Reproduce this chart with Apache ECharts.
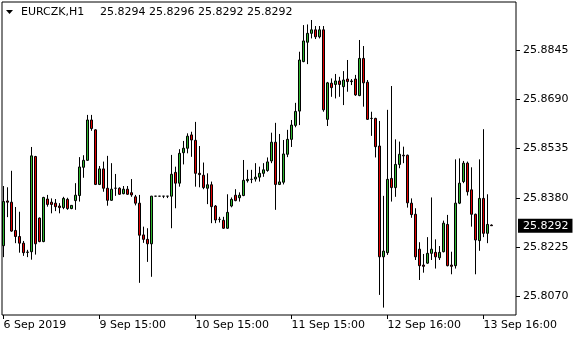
<!DOCTYPE html>
<html><head><meta charset="utf-8">
<script src="https://cdn.jsdelivr.net/npm/echarts@6/dist/echarts.min.js"></script>
<style>html,body{margin:0;padding:0;background:#fff}#c{width:580px;height:340px}</style>
</head><body><div id="c"></div>
<script>
const symbolName = 'EURCZK,H1';
const tickIndex = [0, 24, 48, 72, 96, 120];
const tickLabels = ['6 Sep 2019', '9 Sep 15:00', '10 Sep 15:00', '11 Sep 15:00', '12 Sep 16:00', '13 Sep 16:00'];
const priceTicks = [25.8070, 25.8225, 25.8380, 25.8535, 25.8690, 25.8845];

const opens = [
25.8229,25.8370,25.8366,25.8277,25.8258,25.8237,25.8208,25.8210,25.8510,25.8316,
25.8242,25.8376,25.8366,25.8363,25.8354,25.8349,25.8375,25.8346,25.8371,25.8387,
25.8476,25.8498,25.8625,25.8594,25.8422,25.8471,25.8410,25.8372,25.8410,25.8410,
25.8393,25.8407,25.8396,25.8383,25.8363,25.8263,25.8249,25.8235,25.8385,25.8385,
25.8385,25.8385,25.8385,25.8460,25.8426,25.8522,25.8536,25.8578,25.8561,25.8457,
25.8451,25.8410,25.8421,25.8354,25.8312,25.8309,25.8284,25.8354,25.8388,25.8380,
25.8387,25.8434,25.8438,25.8439,25.8445,25.8457,25.8466,25.8496,25.8555,25.8422,
25.8429,25.8517,25.8564,25.8608,25.8653,25.8809,25.8870,25.8898,25.8909,25.8887,
25.8909,25.8627,25.8741,25.8737,25.8748,25.8730,25.8754,25.8748,25.8754,25.8702,
25.8819,25.8744,25.8630,25.8630,25.8543,25.8194,25.8207,25.8441,25.8412,25.8485,
25.8514,25.8514,25.8363,25.8328,25.8218,25.8168,25.8174,25.8205,25.8208,25.8191,
25.8210,25.8296,25.8168,25.8166,25.8363,25.8431,25.8489,25.8405,25.8328,25.8245,
25.8378,25.8268,25.8294];
const highs = [
25.8417,25.8413,25.8465,25.8351,25.8336,25.8244,25.8216,25.8540,25.8512,25.8318,
25.8383,25.8389,25.8378,25.8376,25.8363,25.8383,25.8380,25.8357,25.8426,25.8508,
25.8514,25.8641,25.8641,25.8596,25.8480,25.8494,25.8512,25.8489,25.8455,25.8413,
25.8417,25.8417,25.8439,25.8389,25.8389,25.8289,25.8284,25.8386,25.8385,25.8385,
25.8385,25.8385,25.8515,25.8478,25.8533,25.8559,25.8583,25.8588,25.8619,25.8543,
25.8491,25.8457,25.8431,25.8357,25.8320,25.8320,25.8391,25.8381,25.8407,25.8397,
25.8499,25.8468,25.8468,25.8489,25.8478,25.8489,25.8507,25.8585,25.8616,25.8581,
25.8562,25.8594,25.8625,25.8679,25.8840,25.8924,25.8926,25.8940,25.8921,25.8921,
25.8921,25.8745,25.8756,25.8770,25.8761,25.8779,25.8814,25.8754,25.8767,25.8877,
25.8858,25.8751,25.8651,25.8632,25.8622,25.8386,25.8657,25.8732,25.8564,25.8557,
25.8541,25.8516,25.8378,25.8347,25.8240,25.8203,25.8256,25.8381,25.8249,25.8228,
25.8308,25.8326,25.8210,25.8501,25.8504,25.8496,25.8494,25.8476,25.8330,25.8501,
25.8596,25.8391,25.8296];
const lows = [
25.8193,25.8319,25.8273,25.8237,25.8207,25.8197,25.8193,25.8185,25.8201,25.8240,
25.8240,25.8352,25.8331,25.8338,25.8331,25.8344,25.8342,25.8344,25.8342,25.8368,
25.8443,25.8496,25.8591,25.8420,25.8420,25.8399,25.8355,25.8370,25.8386,25.8389,
25.8391,25.8389,25.8383,25.8356,25.8112,25.8238,25.8178,25.8131,25.8385,25.8385,
25.8379,25.8379,25.8284,25.8347,25.8415,25.8485,25.8520,25.8509,25.8415,25.8413,
25.8407,25.8360,25.8300,25.8300,25.8302,25.8282,25.8282,25.8350,25.8369,25.8368,
25.8385,25.8428,25.8426,25.8431,25.8431,25.8446,25.8462,25.8489,25.8342,25.8420,
25.8422,25.8508,25.8540,25.8602,25.8609,25.8807,25.8801,25.8882,25.8880,25.8882,
25.8651,25.8606,25.8698,25.8693,25.8698,25.8672,25.8714,25.8735,25.8701,25.8700,
25.8667,25.8625,25.8575,25.8507,25.8074,25.8034,25.8200,25.8368,25.8383,25.8473,
25.8489,25.8349,25.8317,25.8184,25.8121,25.8144,25.8172,25.8184,25.8157,25.8184,
25.8208,25.8164,25.8139,25.8157,25.8360,25.8426,25.8387,25.8289,25.8139,25.8213,
25.8256,25.8237,25.8292];
const closes = [
25.8368,25.8366,25.8275,25.8258,25.8237,25.8207,25.8209,25.8512,25.8235,25.8242,
25.8381,25.8359,25.8359,25.8352,25.8349,25.8378,25.8346,25.8356,25.8388,25.8477,
25.8498,25.8625,25.8598,25.8422,25.8471,25.8410,25.8372,25.8407,25.8410,25.8391,
25.8407,25.8391,25.8389,25.8363,25.8262,25.8249,25.8235,25.8385,25.8385,25.8385,
25.8385,25.8385,25.8454,25.8426,25.8520,25.8536,25.8574,25.8562,25.8457,25.8453,
25.8412,25.8421,25.8352,25.8310,25.8312,25.8284,25.8334,25.8375,25.8371,25.8388,
25.8435,25.8438,25.8438,25.8445,25.8457,25.8468,25.8493,25.8555,25.8422,25.8430,
25.8518,25.8564,25.8609,25.8652,25.8814,25.8874,25.8898,25.8909,25.8887,25.8909,
25.8657,25.8742,25.8727,25.8748,25.8737,25.8751,25.8746,25.8746,25.8704,25.8819,
25.8742,25.8627,25.8630,25.8541,25.8194,25.8212,25.8438,25.8412,25.8485,25.8517,
25.8512,25.8364,25.8327,25.8194,25.8166,25.8164,25.8205,25.8218,25.8194,25.8208,
25.8300,25.8166,25.8164,25.8363,25.8426,25.8489,25.8399,25.8328,25.8247,25.8378,
25.8268,25.8296,25.8292];

const FONT = 'DejaVu Sans';
const last = opens.length - 1;
const candleData = opens.map((o, i) => [i, o, closes[i], lows[i], highs[i]]);
const headerValues = [opens[last], highs[last], lows[last], closes[last]].map(v => v.toFixed(4)).join(' ');

const chart = echarts.init(document.getElementById('c'), null, {renderer: 'canvas'});
chart.setOption({
  animation: false,
  backgroundColor: '#fff',
  grid: {left: 2, right: 64, top: 2, bottom: 25, show: true, borderColor: '#000', borderWidth: 1, backgroundColor: 'transparent'},
  xAxis: {
    type: 'value', min: -0.375, max: 128.125,
    axisLine: {show: false, onZero: false},
    splitLine: {show: false},
    axisTick: {show: true, inside: false, length: 4, lineStyle: {color: '#000'}, customValues: tickIndex},
    axisLabel: {
      customValues: tickIndex, color: '#000', fontFamily: FONT, fontSize: 11, margin: 5, align: 'left',
      formatter: v => tickLabels[tickIndex.indexOf(Math.round(v))] || ''
    }
  },
  yAxis: {
    type: 'value', position: 'right', min: 25.80107, max: 25.89967, scale: true,
    axisLine: {show: false, onZero: false},
    splitLine: {show: false},
    axisTick: {show: true, inside: false, length: 4, lineStyle: {color: '#000'}, customValues: priceTicks},
    axisLabel: {customValues: priceTicks, color: '#000', fontFamily: FONT, fontSize: 11, margin: 7, formatter: v => v.toFixed(4)}
  },
  graphic: [
    {type: 'polygon', shape: {points: [[6, 10], [13, 10], [9.5, 14]]}, style: {fill: '#000'}, silent: true},
    {type: 'text', left: 21, top: 7, style: {text: symbolName, fill: '#000', font: '11px "' + FONT + '"'}},
    {type: 'text', left: 100, top: 7, style: {text: headerValues, fill: '#000', font: '11px "' + FONT + '"'}}
  ],
  series: [{
    type: 'candlestick',
    data: candleData,
    encode: {x: 0, y: [1, 2, 3, 4]},
    barWidth: 2,
    itemStyle: {color: '#2fb52f', color0: '#e00000', borderColor: '#000', borderColor0: '#000', borderColorDoji: '#000', borderWidth: 1},
    markLine: {
      silent: true, symbol: ['none', 'none'], precision: 4,
      lineStyle: {color: 'rgba(0,0,0,0)', width: 1, type: 'solid'},
      data: [{yAxis: closes[last]}],
      label: {
        show: true, position: 'end', distance: 2, formatter: p => Number(p.value).toFixed(4),
        color: '#fff', backgroundColor: '#000', padding: [2, 4, 1, 5], fontFamily: FONT, fontSize: 11, opacity: 1
      },
      emphasis: {disabled: true}
    }
  }]
});
</script>
</body></html>
